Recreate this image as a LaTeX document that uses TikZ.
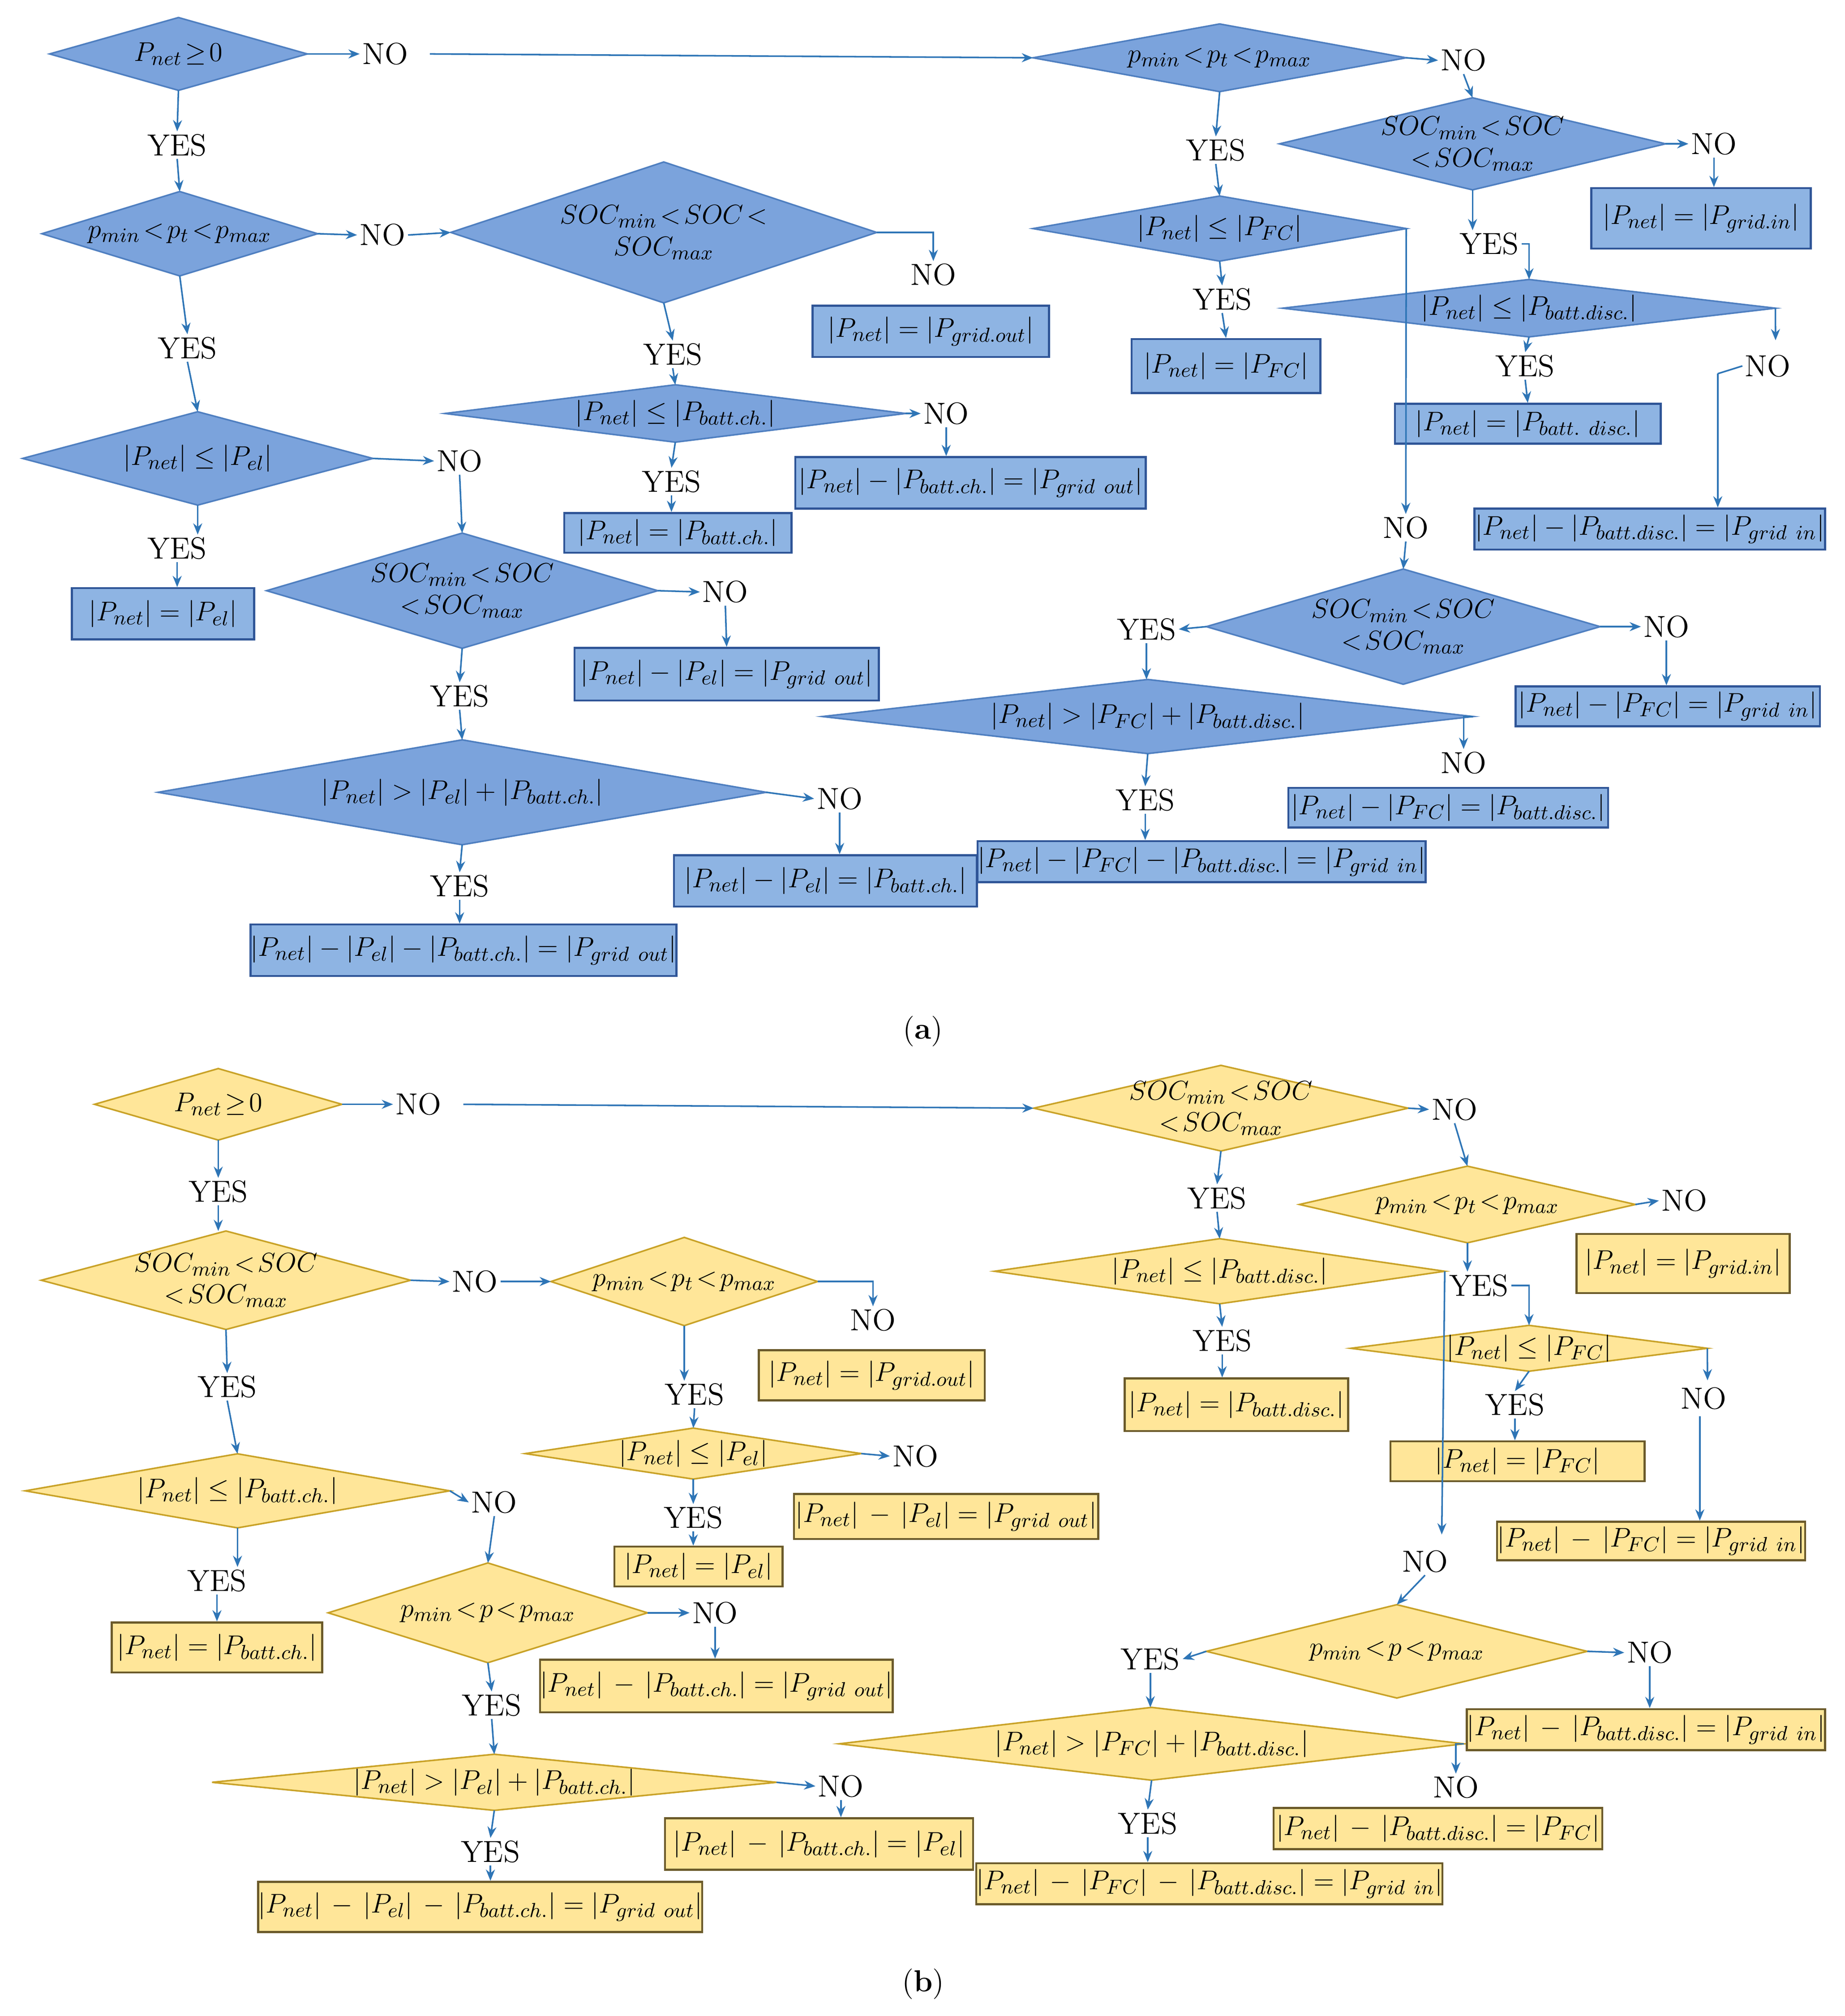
\documentclass[tikz,border=0pt]{standalone}
\usetikzlibrary{arrows.meta}
\definecolor{ac}{HTML}{2E75B6}
\definecolor{bdf}{HTML}{7BA3DC}
\definecolor{bdd}{HTML}{4F7FC0}
\definecolor{bbf}{HTML}{8EB4E3}
\definecolor{bbd}{HTML}{2F5597}
\definecolor{ydf}{HTML}{FFE699}
\definecolor{ydd}{HTML}{C9A227}
\definecolor{ybd}{HTML}{6B5A2A}
\newcommand\dia[6]{%
  \node[minimum width=#4*0.02cm, minimum height=#5*0.02cm, inner sep=0pt] (#1) at (#2,#3) {};
  \path[dsty] (#1.north)--(#1.east)--(#1.south)--(#1.west)--cycle;
  \node[align=center, inner sep=0pt] at (#1) {#6};}
\begin{document}
\begin{tikzpicture}[x=0.02cm,y=-0.02cm,
  font=\fontsize{12.5}{14}\selectfont,
  ar/.style={draw=ac, line width=0.7pt, -{Stealth[length=5pt,width=4pt]}},
  ln/.style={draw=ac, line width=0.7pt},
  lb/.style={inner sep=1pt, font=\fontsize{13.5}{15}\selectfont},
  bx/.style={draw=bbd, fill=bbf, line width=0.9pt, inner sep=0pt},
  dsty/.style={fill=bdf, draw=bdd, line width=0.7pt}]
\useasboundingbox (0,0) rectangle (1437,1570);
% ================= (a) =================
\begin{scope}
\dia{d1}{139}{42}{200}{56}{$P_{net}\!\ge\!0$}
\dia{d2}{950}{45}{290}{52}{$p_{min}\!<\!p_t\!<\!p_{max}$}
\dia{d3}{1147}{112}{300}{71}{$SOC_{min}\!<\!SOC$\\$<\!SOC_{max}$}
\dia{d4}{1191}{240}{383}{44}{$|P_{net}|\le|P_{batt.disc.}|$}
\dia{d5}{950}{178}{290}{50}{$|P_{net}|\le|P_{FC}|$}
\dia{d6}{1093}{488}{306}{89}{$SOC_{min}\!<\!SOC$\\$<\!SOC_{max}$}
\dia{d7}{894}{558}{506}{57}{$|P_{net}|>|P_{FC}|+|P_{batt.disc.}|$}
\dia{d8}{140}{182}{214}{65}{$p_{min}\!<\!p_t\!<\!p_{max}$}
\dia{d9}{517}{181}{331}{109}{$SOC_{min}\!<\!SOC\!<$\\$SOC_{max}$}
\dia{d10}{526}{322}{358}{44}{$|P_{net}|\le|P_{batt.ch.}|$}
\dia{d11}{154}{357}{272}{72}{$|P_{net}|\le|P_{el}|$}
\dia{d12}{360}{460}{304}{89}{$SOC_{min}\!<\!SOC$\\$<\!SOC_{max}$}
\dia{d13}{360}{617}{473}{81}{$|P_{net}|>|P_{el}|+|P_{batt.ch.}|$}
% boxes
\node[bx,minimum width=171*0.02cm,minimum height=47*0.02cm] (b3) at (1325,170) {$|P_{net}|=|P_{grid.in}|$};
\node[bx,minimum width=207*0.02cm,minimum height=31*0.02cm] (b4) at (1190,330) {$|P_{net}|=|P_{batt.\ disc.}|$};
\node[bx,minimum width=273*0.02cm,minimum height=32*0.02cm] (b4n) at (1285,412) {$|P_{net}|-|P_{batt.disc.}|=|P_{grid\ in}|$};
\node[bx,minimum width=147*0.02cm,minimum height=42*0.02cm] (b5) at (955,285) {$|P_{net}|=|P_{FC}|$};
\node[bx,minimum width=237*0.02cm,minimum height=31*0.02cm] (b6) at (1299,550) {$|P_{net}|-|P_{FC}|=|P_{grid\ in}|$};
\node[bx,minimum width=249*0.02cm,minimum height=31*0.02cm] (b7n) at (1128,629) {$|P_{net}|-|P_{FC}|=|P_{batt.disc.}|$};
\node[bx,minimum width=339*0.02cm,minimum height=32*0.02cm] (b7) at (936,671) {$|P_{net}|-|P_{FC}|-|P_{batt.disc.}|=|P_{grid\ in}|$};
\node[bx,minimum width=184*0.02cm,minimum height=40*0.02cm] (b9) at (725,258) {$|P_{net}|=|P_{grid.out}|$};
\node[bx,minimum width=273*0.02cm,minimum height=40*0.02cm] (b10n) at (756,376) {$|P_{net}|-|P_{batt.ch.}|=|P_{grid\ out}|$};
\node[bx,minimum width=177*0.02cm,minimum height=31*0.02cm] (b10) at (528,415) {$|P_{net}|=|P_{batt.ch.}|$};
\node[bx,minimum width=142*0.02cm,minimum height=40*0.02cm] (b11) at (127,478) {$|P_{net}|=|P_{el}|$};
\node[bx,minimum width=237*0.02cm,minimum height=41*0.02cm] (b12) at (566,525) {$|P_{net}|-|P_{el}|=|P_{grid\ out}|$};
\node[bx,minimum width=236*0.02cm,minimum height=40*0.02cm] (b13n) at (643,686) {$|P_{net}|-|P_{el}|=|P_{batt.ch.}|$};
\node[bx,minimum width=330*0.02cm,minimum height=40*0.02cm] (b13) at (361,740) {$|P_{net}|-|P_{el}|-|P_{batt.ch.}|=|P_{grid\ out}|$};
% labels
\node[lb] (na1) at (300,42) {NO};
\node[lb] (ya1) at (138,113) {YES};
\node[lb] (na2) at (1140,47) {NO};
\node[lb] (ya2) at (947,117) {YES};
\node[lb] (na3) at (1335,112) {NO};
\node[lb] (ya3) at (1160,190) {YES};
\node[lb] (ya4) at (1188,285) {YES};
\node[lb] (na4) at (1377,285) {NO};
\node[lb] (ya5) at (952,233) {YES};
\node[lb] (na5) at (1095,411) {NO};
\node[lb] (na6) at (1298,488) {NO};
\node[lb] (ya6) at (893,490) {YES};
\node[lb] (na7) at (1140,594) {NO};
\node[lb] (ya7) at (892,623) {YES};
\node[lb] (na8) at (298,183) {NO};
\node[lb] (na9) at (727,214) {NO};
\node[lb] (ya9) at (524,276) {YES};
\node[lb] (na10) at (737,322) {NO};
\node[lb] (ya10) at (523,375) {YES};
\node[lb] (ya8) at (146,271) {YES};
\node[lb] (na11) at (358,359) {NO};
\node[lb] (ya11) at (138,427) {YES};
\node[lb] (na12) at (565,461) {NO};
\node[lb] (ya12) at (358,542) {YES};
\node[lb] (na13) at (654,622) {NO};
\node[lb] (ya13) at (358,690) {YES};
\coordinate (c4) at (1383,265);
\coordinate (c4b) at (1338,291);
% connectors
\draw[ar] (d1.east) -- (na1.west);
\draw[ar] (na1.east) ++(15,0) -- (d2.west);
\draw[ar] (d1.south) -- (ya1.north);
\draw[ar] (ya1.south) -- (d8.north);
\draw[ar] (d2.east) -- (na2.west);
\draw[ar] (na2.south) -- (d3.north);
\draw[ar] (d3.east) -- (na3.west);
\draw[ar] (na3.south) -- (b3.north -| na3.south);
\draw[ar] (d3.south) -- (ya3.north -| d3.south);
\draw[ar] (ya3.east) -| (d4.north);
\draw[ar] (d4.south) -- (ya4.north);
\draw[ar] (ya4.south) -- (b4.north);
\draw[ar] (d4.east) -- (c4);
\draw[ar] (c4b) -| (b4n.north -| c4b);
\draw[ln] (c4b) -- (na4.west);
\draw[ar] (d2.south) -- (ya2.north);
\draw[ar] (ya2.south) -- (d5.north);
\draw[ar] (d5.south) -- (ya5.north);
\draw[ar] (ya5.south) -- (b5.north);
\draw[ar] (d5.east) -- (na5.north);
\draw[ar] (na5.south) -- (d6.north);
\draw[ar] (d6.east) -- (na6.west);
\draw[ar] (na6.south) -- (b6.north -| na6.south);
\draw[ar] (d6.west) -- (ya6.east);
\draw[ar] (ya6.south) -- (d7.north -| ya6.south);
\draw[ar] (d7.east) -| (na7.north);
\draw[ar] (d7.south) -- (ya7.north);
\draw[ar] (ya7.south) -- (b7.north -| ya7.south);
\draw[ar] (d8.east) -- (na8.west);
\draw[ar] (na8.east) -- (d9.west);
\draw[ar] (d9.east) -| (na9.north);
\draw[ar] (d9.south) -- (ya9.north);
\draw[ar] (ya9.south) -- (d10.north);
\draw[ar] (d10.east) -- (na10.west);
\draw[ar] (na10.south) -- (b10n.north -| na10.south);
\draw[ar] (d10.south) -- (ya10.north);
\draw[ar] (ya10.south) -- (b10.north -| ya10.south);
\draw[ar] (d8.south) -- (ya8.north);
\draw[ar] (ya8.south) -- (d11.north);
\draw[ar] (d11.east) -- (na11.west);
\draw[ar] (na11.south) -- (d12.north);
\draw[ar] (d11.south) -- (ya11.north -| d11.south);
\draw[ar] (ya11.south) -- (b11.north -| ya11.south);
\draw[ar] (d12.east) -- (na12.west);
\draw[ar] (na12.south) -- (b12.north);
\draw[ar] (d12.south) -- (ya12.north);
\draw[ar] (ya12.south) -- (d13.north);
\draw[ar] (d13.east) -- (na13.west);
\draw[ar] (na13.south) -- (b13n.north -| na13.south);
\draw[ar] (d13.south) -- (ya13.north);
\draw[ar] (ya13.south) -- (b13.north -| ya13.south);
\node[lb] (capa) at (719,803) {(\textbf{a})};
\end{scope}
% ================= (b) =================
\begin{scope}[dsty/.style={fill=ydf, draw=ydd, line width=0.7pt},
  bx/.style={draw=ybd, fill=ydf, line width=0.9pt, inner sep=0pt}]
\dia{e1}{170}{860}{192}{55}{$P_{net}\!\ge\!0$}
\dia{e2}{951}{863}{291}{66}{$SOC_{min}\!<\!SOC$\\$<\!SOC_{max}$}
\dia{e3}{1143}{938}{261}{59}{$p_{min}\!<\!p_t\!<\!p_{max}$}
\dia{e4}{1191}{1050}{277}{35}{$|P_{net}|\le|P_{FC}|$}
\dia{e5}{950}{990}{350}{50}{$|P_{net}|\le|P_{batt.disc.}|$}
\dia{e6}{1088}{1286}{296}{72}{$p_{min}\!<\!p\!<\!p_{max}$}
\dia{e7}{897}{1358}{486}{56}{$|P_{net}|>|P_{FC}|+|P_{batt.disc.}|$}
\dia{e8}{176}{997}{287}{76}{$SOC_{min}\!<\!SOC$\\$<\!SOC_{max}$}
\dia{e9}{533}{998}{207}{68}{$p_{min}\!<\!p_t\!<\!p_{max}$}
\dia{e10}{540}{1132}{261}{39}{$|P_{net}|\le|P_{el}|$}
\dia{e11}{185}{1161}{330}{57}{$|P_{net}|\le|P_{batt.ch.}|$}
\dia{e12}{380}{1256}{248}{77}{$p_{min}\!<\!p\!<\!p_{max}$}
\dia{e13}{385}{1388}{439}{43}{$|P_{net}|>|P_{el}|+|P_{batt.ch.}|$}
\node[bx,minimum width=166*0.02cm,minimum height=46*0.02cm] (f3) at (1311,984) {$|P_{net}|=|P_{grid.in}|$};
\node[bx,minimum width=240*0.02cm,minimum height=30*0.02cm] (f4n) at (1286,1200) {$|P_{net}|\,-\,|P_{FC}|=|P_{grid\ in}|$};
\node[bx,minimum width=198*0.02cm,minimum height=31*0.02cm] (f4) at (1182,1138) {$|P_{net}|=|P_{FC}|$};
\node[bx,minimum width=174*0.02cm,minimum height=41*0.02cm] (f5) at (963,1094) {$|P_{net}|=|P_{batt.disc.}|$};
\node[bx,minimum width=275*0.02cm,minimum height=32*0.02cm] (f6) at (1282,1347) {$|P_{net}|\,-\,|P_{batt.disc.}|=|P_{grid\ in}|$};
\node[bx,minimum width=256*0.02cm,minimum height=32*0.02cm] (f7n) at (1120,1424) {$|P_{net}|\,-\,|P_{batt.disc.}|=|P_{FC}|$};
\node[bx,minimum width=353*0.02cm,minimum height=32*0.02cm] (f7) at (942,1467) {$|P_{net}|\,-\,|P_{FC}|\,-\,|P_{batt.disc.}|=|P_{grid\ in}|$};
\node[bx,minimum width=176*0.02cm,minimum height=39*0.02cm] (f9) at (679,1071) {$|P_{net}|=|P_{grid.out}|$};
\node[bx,minimum width=237*0.02cm,minimum height=35*0.02cm] (f10n) at (737,1181) {$|P_{net}|\,-\,|P_{el}|=|P_{grid\ out}|$};
\node[bx,minimum width=131*0.02cm,minimum height=31*0.02cm] (f10) at (544,1220) {$|P_{net}|=|P_{el}|$};
\node[bx,minimum width=164*0.02cm,minimum height=39*0.02cm] (f11) at (169,1283) {$|P_{net}|=|P_{batt.ch.}|$};
\node[bx,minimum width=269*0.02cm,minimum height=41*0.02cm] (f12) at (558,1313) {$|P_{net}|\,-\,|P_{batt.ch.}|=|P_{grid\ out}|$};
\node[bx,minimum width=240*0.02cm,minimum height=40*0.02cm] (f13n) at (638,1436) {$|P_{net}|\,-\,|P_{batt.ch.}|=|P_{el}|$};
\node[bx,minimum width=335*0.02cm,minimum height=39*0.02cm] (f13) at (374,1485) {$|P_{net}|\,-\,|P_{el}|\,-\,|P_{batt.ch.}|=|P_{grid\ out}|$};
\node[lb] (mb1) at (326,860) {NO};
\node[lb] (yb1) at (170,928) {YES};
\node[lb] (mb2) at (1133,864) {NO};
\node[lb] (yb2) at (948,933) {YES};
\node[lb] (mb3) at (1312,935) {NO};
\node[lb] (yb3) at (1152,1001) {YES};
\node[lb] (mb4) at (1327,1089) {NO};
\node[lb] (yb4) at (1180,1094) {YES};
\node[lb] (yb5) at (952,1044) {YES};
\node[lb] (mb5) at (1110,1216) {NO};
\node[lb] (mb6) at (1285,1287) {NO};
\node[lb] (yb6) at (896,1292) {YES};
\node[lb] (mb7) at (1134,1392) {NO};
\node[lb] (yb7) at (894,1420) {YES};
\node[lb] (mb8) at (370,998) {NO};
\node[lb] (mb9) at (680,1028) {NO};
\node[lb] (yb9) at (541,1086) {YES};
\node[lb] (mb10) at (713,1134) {NO};
\node[lb] (yb10) at (540,1182) {YES};
\node[lb] (yb8) at (177,1080) {YES};
\node[lb] (mb11) at (385,1170) {NO};
\node[lb] (yb11) at (169,1231) {YES};
\node[lb] (mb12) at (557,1256) {NO};
\node[lb] (yb12) at (383,1328) {YES};
\node[lb] (mb13) at (655,1391) {NO};
\node[lb] (yb13) at (382,1442) {YES};
\coordinate (g4) at (1330,1075);
\coordinate (g4b) at (1324,1103);
\coordinate (g5) at (1123,1195);
\draw[ar] (e1.east) -- (mb1.west);
\draw[ar] (mb1.east) ++(15,0) -- (e2.west);
\draw[ar] (e1.south) -- (yb1.north);
\draw[ar] (yb1.south) -- (e8.north -| yb1.south);
\draw[ar] (e2.east) -- (mb2.west);
\draw[ar] (mb2.south) -- (e3.north);
\draw[ar] (e3.east) -- (mb3.west);
\draw[ar] (e3.south) -- (yb3.north -| e3.south);
\draw[ar] (yb3.east) -| (e4.north);
\draw[ar] (e4.east) -- (g4);
\draw[ar] (g4b) -- (f4n.north -| g4b);
\draw[ar] (e4.south) -- (yb4.north);
\draw[ar] (yb4.south) -- (f4.north -| yb4.south);
\draw[ar] (e2.south) -- (yb2.north);
\draw[ar] (yb2.south) -- (e5.north);
\draw[ar] (e5.south) -- (yb5.north);
\draw[ar] (yb5.south) -- (f5.north -| yb5.south);
\draw[ar] (e5.east) -- (g5);
\draw[ar] (mb5.south) -- (e6.north);
\draw[ar] (e6.east) -- (mb6.west);
\draw[ar] (mb6.south) -- (f6.north -| mb6.south);
\draw[ar] (e6.west) -- (yb6.east);
\draw[ar] (yb6.south) -- (e7.north -| yb6.south);
\draw[ar] (e7.east) -| (mb7.north);
\draw[ar] (e7.south) -- (yb7.north);
\draw[ar] (yb7.south) -- (f7.north -| yb7.south);
\draw[ar] (e8.east) -- (mb8.west);
\draw[ar] (mb8.east) -- (e9.west);
\draw[ar] (e9.east) -| (mb9.north);
\draw[ar] (e9.south) -- (yb9.north -| e9.south);
\draw[ar] (yb9.south) -- (e10.north);
\draw[ar] (e10.east) -- (mb10.west);
\draw[ar] (e10.south) -- (yb10.north);
\draw[ar] (yb10.south) -- (f10.north -| yb10.south);
\draw[ar] (e8.south) -- (yb8.north);
\draw[ar] (yb8.south) -- (e11.north);
\draw[ar] (e11.east) -- (mb11.west);
\draw[ar] (mb11.south) -- (e12.north);
\draw[ar] (e11.south) -- (yb11.north -| e11.south);
\draw[ar] (yb11.south) -- (f11.north -| yb11.south);
\draw[ar] (e12.east) -- (mb12.west);
\draw[ar] (mb12.south) -- (f12.north -| mb12.south);
\draw[ar] (e12.south) -- (yb12.north);
\draw[ar] (yb12.south) -- (e13.north);
\draw[ar] (e13.east) -- (mb13.west);
\draw[ar] (mb13.south) -- (f13n.north -| mb13.south);
\draw[ar] (e13.south) -- (yb13.north);
\draw[ar] (yb13.south) -- (f13.north -| yb13.south);
\node[lb] (capb) at (719,1545) {(\textbf{b})};
\end{scope}
\end{tikzpicture}
\end{document}
